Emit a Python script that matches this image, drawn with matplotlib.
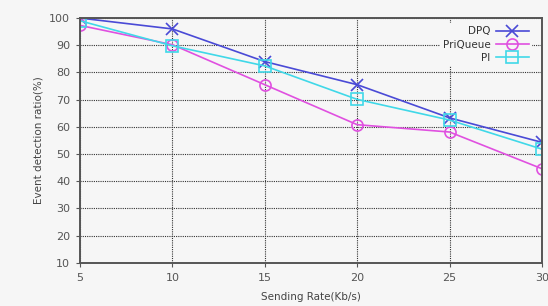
import matplotlib
matplotlib.use('Agg')
from matplotlib import pyplot as plt

rates = [5, 10, 15, 20, 25, 30]
dpq = [100, 96, 84, 75.5, 63.3, 54.3]
priqueue = [97.3, 90.2, 75.5, 60.8, 58.1, 44.6]
pi = [99, 89.8, 82.4, 70.1, 62.5, 51.8]
y_ticks = [10, 20, 30, 40, 50, 60, 70, 80, 90, 100]
x_ticks = [5, 10, 15, 20, 25, 30]


def main():
    plt.rcParams.update({'font.size': 8, 'font.family': 'DejaVu Sans'})
    fig = plt.figure(figsize=(5.48, 3.06), dpi=100)
    fig.patch.set_facecolor('#f6f6f6')
    ax = fig.add_axes([0.146, 0.141, 0.843, 0.8])
    ax.set_facecolor('#f6f6f6')

    ax.plot(rates, dpq, color='#4a4ad6', marker='x', markersize=9, lw=1.2,
            mew=1.2, label='DPQ')
    ax.plot(rates, priqueue, color='#e050e0', marker='o', markersize=8,
            mfc='none', lw=1.2, mew=1.2, label='PriQueue')
    ax.plot(rates, pi, color='#40d8e8', marker='s', markersize=8,
            mfc='none', lw=1.2, mew=1.2, label='PI')

    ax.set_xlim(5, 30)
    ax.set_ylim(10, 100)
    ax.set_xticks(x_ticks)
    ax.set_yticks(y_ticks)
    ax.grid(True, ls=(0, (1, 1)), color='#333333', lw=0.8)
    for s in ax.spines.values():
        s.set_color('#555555')
        s.set_linewidth(1.4)
    ax.tick_params(colors='#555555', labelsize=8, length=3, pad=4)
    ax.set_xlabel('Sending Rate(Kb/s)', fontsize=7.5, color='#444444',
                  labelpad=7)
    ax.set_ylabel('Event detection ratio(%)', fontsize=7.5, color='#444444')

    leg = ax.legend(loc='upper right', markerfirst=False, frameon=True,
                    fontsize=7.5, handlelength=3.2, borderpad=0.3,
                    labelspacing=0.3, handletextpad=0.5,
                    bbox_to_anchor=(0.99, 1.0))
    leg.get_frame().set_facecolor('#f6f6f6')
    leg.get_frame().set_edgecolor('none')
    leg.get_frame().set_alpha(1)
    for col in leg._legend_handle_box.get_children():
        col.align = 'right'
    for t in leg.get_texts():
        t.set_color('#333333')

    fig.savefig('out.png', dpi=100, facecolor=fig.get_facecolor())


if __name__ == '__main__':
    main()
